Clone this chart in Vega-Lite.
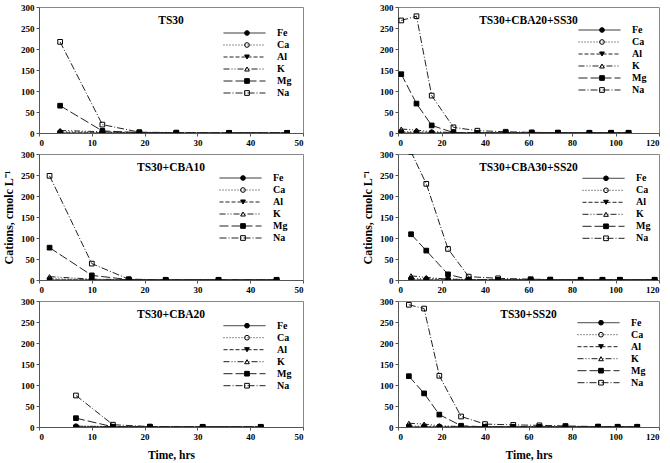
{
"$schema":"https://vega.github.io/schema/vega-lite/v6.json",
"padding":{"left":2,"top":2,"right":2,"bottom":2},
"data":{"values":[
{"p":1,"t":4,"i":"Fe","v":0},{"p":1,"t":12,"i":"Fe","v":0},{"p":1,"t":19,"i":"Fe","v":0},{"p":1,"t":26,"i":"Fe","v":0},{"p":1,"t":36,"i":"Fe","v":0},{"p":1,"t":47,"i":"Fe","v":0},
{"p":1,"t":4,"i":"Al","v":0},{"p":1,"t":12,"i":"Al","v":0},{"p":1,"t":19,"i":"Al","v":0},{"p":1,"t":26,"i":"Al","v":0},{"p":1,"t":36,"i":"Al","v":0},{"p":1,"t":47,"i":"Al","v":0},
{"p":1,"t":4,"i":"K","v":6},{"p":1,"t":12,"i":"K","v":3},{"p":1,"t":19,"i":"K","v":1},{"p":1,"t":26,"i":"K","v":0.5},{"p":1,"t":36,"i":"K","v":0.5},{"p":1,"t":47,"i":"K","v":0.5},
{"p":1,"t":4,"i":"Mg","v":65},{"p":1,"t":12,"i":"Mg","v":5},{"p":1,"t":19,"i":"Mg","v":1},{"p":1,"t":26,"i":"Mg","v":0},{"p":1,"t":36,"i":"Mg","v":0},{"p":1,"t":47,"i":"Mg","v":0},
{"p":1,"t":4,"i":"Na","v":217},{"p":1,"t":12,"i":"Na","v":20},{"p":1,"t":19,"i":"Na","v":2},{"p":1,"t":26,"i":"Na","v":1},{"p":1,"t":36,"i":"Na","v":0.5},{"p":1,"t":47,"i":"Na","v":0.5},
{"p":1,"t":4,"i":"Ca","v":3},{"p":1,"t":12,"i":"Ca","v":2},{"p":1,"t":19,"i":"Ca","v":1},{"p":1,"t":26,"i":"Ca","v":0.5},{"p":1,"t":36,"i":"Ca","v":0.5},{"p":1,"t":47,"i":"Ca","v":0.5},

{"p":2,"t":2,"i":"Fe","v":0},{"p":2,"t":10,"i":"Fe","v":0},{"p":2,"t":17,"i":"Fe","v":0},{"p":2,"t":24,"i":"Fe","v":0},{"p":2,"t":34,"i":"Fe","v":0},{"p":2,"t":45,"i":"Fe","v":0},
{"p":2,"t":2,"i":"Al","v":0},{"p":2,"t":10,"i":"Al","v":0},{"p":2,"t":17,"i":"Al","v":0},{"p":2,"t":24,"i":"Al","v":0},{"p":2,"t":34,"i":"Al","v":0},{"p":2,"t":45,"i":"Al","v":0},
{"p":2,"t":2,"i":"K","v":8},{"p":2,"t":10,"i":"K","v":2},{"p":2,"t":17,"i":"K","v":1},{"p":2,"t":24,"i":"K","v":0.5},{"p":2,"t":34,"i":"K","v":0.5},{"p":2,"t":45,"i":"K","v":0.5},
{"p":2,"t":2,"i":"Mg","v":77},{"p":2,"t":10,"i":"Mg","v":11},{"p":2,"t":17,"i":"Mg","v":1},{"p":2,"t":24,"i":"Mg","v":0},{"p":2,"t":34,"i":"Mg","v":0},{"p":2,"t":45,"i":"Mg","v":0},
{"p":2,"t":2,"i":"Na","v":248},{"p":2,"t":10,"i":"Na","v":39},{"p":2,"t":17,"i":"Na","v":2},{"p":2,"t":24,"i":"Na","v":0.5},{"p":2,"t":34,"i":"Na","v":0.5},{"p":2,"t":45,"i":"Na","v":0.5},
{"p":2,"t":2,"i":"Ca","v":3},{"p":2,"t":10,"i":"Ca","v":1},{"p":2,"t":17,"i":"Ca","v":1},{"p":2,"t":24,"i":"Ca","v":0.5},{"p":2,"t":34,"i":"Ca","v":0.5},{"p":2,"t":45,"i":"Ca","v":0.5},

{"p":3,"t":7,"i":"Fe","v":0},{"p":3,"t":14,"i":"Fe","v":0},{"p":3,"t":21,"i":"Fe","v":0},{"p":3,"t":31,"i":"Fe","v":0},{"p":3,"t":42,"i":"Fe","v":0},
{"p":3,"t":7,"i":"Al","v":0},{"p":3,"t":14,"i":"Al","v":0},{"p":3,"t":21,"i":"Al","v":0},{"p":3,"t":31,"i":"Al","v":0},{"p":3,"t":42,"i":"Al","v":0},
{"p":3,"t":7,"i":"K","v":2},{"p":3,"t":14,"i":"K","v":1},{"p":3,"t":21,"i":"K","v":0.5},{"p":3,"t":31,"i":"K","v":0.5},{"p":3,"t":42,"i":"K","v":0.5},
{"p":3,"t":7,"i":"Mg","v":21},{"p":3,"t":14,"i":"Mg","v":0.5},{"p":3,"t":21,"i":"Mg","v":0},{"p":3,"t":31,"i":"Mg","v":0},{"p":3,"t":42,"i":"Mg","v":0},
{"p":3,"t":7,"i":"Na","v":75},{"p":3,"t":14,"i":"Na","v":5.5},{"p":3,"t":21,"i":"Na","v":1},{"p":3,"t":31,"i":"Na","v":0.5},{"p":3,"t":42,"i":"Na","v":0.5},
{"p":3,"t":7,"i":"Ca","v":2},{"p":3,"t":14,"i":"Ca","v":1},{"p":3,"t":21,"i":"Ca","v":1},{"p":3,"t":31,"i":"Ca","v":0.5},{"p":3,"t":42,"i":"Ca","v":0.5},

{"p":4,"t":1.5,"i":"Fe","v":0},{"p":4,"t":8.5,"i":"Fe","v":0},{"p":4,"t":15.5,"i":"Fe","v":0},{"p":4,"t":25.5,"i":"Fe","v":0},{"p":4,"t":36.5,"i":"Fe","v":0},{"p":4,"t":49.5,"i":"Fe","v":0},{"p":4,"t":61.5,"i":"Fe","v":0},{"p":4,"t":73.5,"i":"Fe","v":0},{"p":4,"t":88,"i":"Fe","v":0},{"p":4,"t":98,"i":"Fe","v":0},{"p":4,"t":106,"i":"Fe","v":0},
{"p":4,"t":1.5,"i":"Al","v":0},{"p":4,"t":8.5,"i":"Al","v":0},{"p":4,"t":15.5,"i":"Al","v":0},{"p":4,"t":25.5,"i":"Al","v":0},{"p":4,"t":36.5,"i":"Al","v":0},{"p":4,"t":49.5,"i":"Al","v":0},{"p":4,"t":61.5,"i":"Al","v":0},{"p":4,"t":73.5,"i":"Al","v":0},{"p":4,"t":88,"i":"Al","v":0},{"p":4,"t":98,"i":"Al","v":0},{"p":4,"t":106,"i":"Al","v":0},
{"p":4,"t":1.5,"i":"K","v":9.5},{"p":4,"t":8.5,"i":"K","v":7},{"p":4,"t":15.5,"i":"K","v":3},{"p":4,"t":25.5,"i":"K","v":1},{"p":4,"t":36.5,"i":"K","v":0.5},{"p":4,"t":49.5,"i":"K","v":0.5},{"p":4,"t":61.5,"i":"K","v":0.5},{"p":4,"t":73.5,"i":"K","v":0.5},{"p":4,"t":88,"i":"K","v":0.5},{"p":4,"t":98,"i":"K","v":0.5},{"p":4,"t":106,"i":"K","v":0.5},
{"p":4,"t":1.5,"i":"Mg","v":140},{"p":4,"t":8.5,"i":"Mg","v":70},{"p":4,"t":15.5,"i":"Mg","v":18},{"p":4,"t":25.5,"i":"Mg","v":1},{"p":4,"t":36.5,"i":"Mg","v":0.5},{"p":4,"t":49.5,"i":"Mg","v":0.5},{"p":4,"t":61.5,"i":"Mg","v":0.5},{"p":4,"t":73.5,"i":"Mg","v":0.5},{"p":4,"t":88,"i":"Mg","v":0.5},{"p":4,"t":98,"i":"Mg","v":0.5},{"p":4,"t":106,"i":"Mg","v":0.5},
{"p":4,"t":1.5,"i":"Na","v":268},{"p":4,"t":8.5,"i":"Na","v":278},{"p":4,"t":15.5,"i":"Na","v":89},{"p":4,"t":25.5,"i":"Na","v":13.5},{"p":4,"t":36.5,"i":"Na","v":5.5},{"p":4,"t":49.5,"i":"Na","v":3},{"p":4,"t":61.5,"i":"Na","v":1.5},{"p":4,"t":73.5,"i":"Na","v":1},{"p":4,"t":88,"i":"Na","v":0.5},{"p":4,"t":98,"i":"Na","v":0.5},{"p":4,"t":106,"i":"Na","v":0.5},
{"p":4,"t":1.5,"i":"Ca","v":3},{"p":4,"t":8.5,"i":"Ca","v":3},{"p":4,"t":15.5,"i":"Ca","v":2},{"p":4,"t":25.5,"i":"Ca","v":1},{"p":4,"t":36.5,"i":"Ca","v":0.5},{"p":4,"t":49.5,"i":"Ca","v":0.5},{"p":4,"t":61.5,"i":"Ca","v":0.5},{"p":4,"t":73.5,"i":"Ca","v":0.5},{"p":4,"t":88,"i":"Ca","v":0.5},{"p":4,"t":98,"i":"Ca","v":0.5},{"p":4,"t":106,"i":"Ca","v":0.5},

{"p":5,"t":6,"i":"Fe","v":0},{"p":5,"t":13,"i":"Fe","v":0},{"p":5,"t":23,"i":"Fe","v":0},{"p":5,"t":32.5,"i":"Fe","v":0},{"p":5,"t":46,"i":"Fe","v":0},{"p":5,"t":61,"i":"Fe","v":0},{"p":5,"t":70,"i":"Fe","v":0},{"p":5,"t":84,"i":"Fe","v":0},{"p":5,"t":94,"i":"Fe","v":0},{"p":5,"t":102,"i":"Fe","v":0},{"p":5,"t":118,"i":"Fe","v":0},
{"p":5,"t":6,"i":"Al","v":0},{"p":5,"t":13,"i":"Al","v":0},{"p":5,"t":23,"i":"Al","v":0},{"p":5,"t":32.5,"i":"Al","v":0},{"p":5,"t":46,"i":"Al","v":0},{"p":5,"t":61,"i":"Al","v":0},{"p":5,"t":70,"i":"Al","v":0},{"p":5,"t":84,"i":"Al","v":0},{"p":5,"t":94,"i":"Al","v":0},{"p":5,"t":102,"i":"Al","v":0},{"p":5,"t":118,"i":"Al","v":0},
{"p":5,"t":6,"i":"K","v":10},{"p":5,"t":13,"i":"K","v":6},{"p":5,"t":23,"i":"K","v":2},{"p":5,"t":32.5,"i":"K","v":1},{"p":5,"t":46,"i":"K","v":0.5},{"p":5,"t":61,"i":"K","v":0.5},{"p":5,"t":70,"i":"K","v":0.5},{"p":5,"t":84,"i":"K","v":0.5},{"p":5,"t":94,"i":"K","v":0.5},{"p":5,"t":102,"i":"K","v":0.5},{"p":5,"t":118,"i":"K","v":0.5},
{"p":5,"t":6,"i":"Mg","v":109},{"p":5,"t":13,"i":"Mg","v":70},{"p":5,"t":23,"i":"Mg","v":13.5},{"p":5,"t":32.5,"i":"Mg","v":1},{"p":5,"t":46,"i":"Mg","v":0.5},{"p":5,"t":61,"i":"Mg","v":0.5},{"p":5,"t":70,"i":"Mg","v":0.5},{"p":5,"t":84,"i":"Mg","v":0.5},{"p":5,"t":94,"i":"Mg","v":0.5},{"p":5,"t":102,"i":"Mg","v":0.5},{"p":5,"t":118,"i":"Mg","v":0.5},
{"p":5,"t":6,"i":"Na","v":305},{"p":5,"t":13,"i":"Na","v":229},{"p":5,"t":23,"i":"Na","v":74},{"p":5,"t":32.5,"i":"Na","v":8},{"p":5,"t":46,"i":"Na","v":4},{"p":5,"t":61,"i":"Na","v":2},{"p":5,"t":70,"i":"Na","v":1},{"p":5,"t":84,"i":"Na","v":0.5},{"p":5,"t":94,"i":"Na","v":0.5},{"p":5,"t":102,"i":"Na","v":0.5},{"p":5,"t":118,"i":"Na","v":0.5},
{"p":5,"t":6,"i":"Ca","v":3},{"p":5,"t":13,"i":"Ca","v":3},{"p":5,"t":23,"i":"Ca","v":2},{"p":5,"t":32.5,"i":"Ca","v":1},{"p":5,"t":46,"i":"Ca","v":0.5},{"p":5,"t":61,"i":"Ca","v":0.5},{"p":5,"t":70,"i":"Ca","v":0.5},{"p":5,"t":84,"i":"Ca","v":0.5},{"p":5,"t":94,"i":"Ca","v":0.5},{"p":5,"t":102,"i":"Ca","v":0.5},{"p":5,"t":118,"i":"Ca","v":0.5},

{"p":6,"t":5,"i":"Fe","v":0},{"p":6,"t":12,"i":"Fe","v":0},{"p":6,"t":19,"i":"Fe","v":0},{"p":6,"t":29,"i":"Fe","v":0},{"p":6,"t":40,"i":"Fe","v":0},{"p":6,"t":53,"i":"Fe","v":0},{"p":6,"t":65,"i":"Fe","v":0},{"p":6,"t":77,"i":"Fe","v":0},{"p":6,"t":92,"i":"Fe","v":0},{"p":6,"t":101,"i":"Fe","v":0},{"p":6,"t":110,"i":"Fe","v":0},
{"p":6,"t":5,"i":"Al","v":0},{"p":6,"t":12,"i":"Al","v":0},{"p":6,"t":19,"i":"Al","v":0},{"p":6,"t":29,"i":"Al","v":0},{"p":6,"t":40,"i":"Al","v":0},{"p":6,"t":53,"i":"Al","v":0},{"p":6,"t":65,"i":"Al","v":0},{"p":6,"t":77,"i":"Al","v":0},{"p":6,"t":92,"i":"Al","v":0},{"p":6,"t":101,"i":"Al","v":0},{"p":6,"t":110,"i":"Al","v":0},
{"p":6,"t":5,"i":"K","v":9},{"p":6,"t":12,"i":"K","v":7},{"p":6,"t":19,"i":"K","v":3},{"p":6,"t":29,"i":"K","v":1},{"p":6,"t":40,"i":"K","v":0.5},{"p":6,"t":53,"i":"K","v":0.5},{"p":6,"t":65,"i":"K","v":0.5},{"p":6,"t":77,"i":"K","v":0.5},{"p":6,"t":92,"i":"K","v":0.5},{"p":6,"t":101,"i":"K","v":0.5},{"p":6,"t":110,"i":"K","v":0.5},
{"p":6,"t":5,"i":"Mg","v":121},{"p":6,"t":12,"i":"Mg","v":80},{"p":6,"t":19,"i":"Mg","v":29.5},{"p":6,"t":29,"i":"Mg","v":3},{"p":6,"t":40,"i":"Mg","v":0.5},{"p":6,"t":53,"i":"Mg","v":0.5},{"p":6,"t":65,"i":"Mg","v":0.5},{"p":6,"t":77,"i":"Mg","v":0.5},{"p":6,"t":92,"i":"Mg","v":0.5},{"p":6,"t":101,"i":"Mg","v":0.5},{"p":6,"t":110,"i":"Mg","v":0.5},
{"p":6,"t":5,"i":"Na","v":291},{"p":6,"t":12,"i":"Na","v":282},{"p":6,"t":19,"i":"Na","v":122},{"p":6,"t":29,"i":"Na","v":25},{"p":6,"t":40,"i":"Na","v":7},{"p":6,"t":53,"i":"Na","v":5},{"p":6,"t":65,"i":"Na","v":4},{"p":6,"t":77,"i":"Na","v":2.5},{"p":6,"t":92,"i":"Na","v":1},{"p":6,"t":101,"i":"Na","v":0.5},{"p":6,"t":110,"i":"Na","v":0.5},
{"p":6,"t":5,"i":"Ca","v":2},{"p":6,"t":12,"i":"Ca","v":2},{"p":6,"t":19,"i":"Ca","v":1.5},{"p":6,"t":29,"i":"Ca","v":1},{"p":6,"t":40,"i":"Ca","v":0.5},{"p":6,"t":53,"i":"Ca","v":0.5},{"p":6,"t":65,"i":"Ca","v":0.5},{"p":6,"t":77,"i":"Ca","v":0.5},{"p":6,"t":92,"i":"Ca","v":0.5},{"p":6,"t":101,"i":"Ca","v":0.5},{"p":6,"t":110,"i":"Ca","v":0.5}
]},
"columns":2,
"spacing":{"row":21,"column":95},
"bounds":"flush",
"resolve":{"scale":{"strokeDash":"independent","shape":"independent"},"legend":{"strokeDash":"independent","shape":"independent"}},
"concat":[
{"width":264,"height":126,"title":{"text":"TS30"},"transform":[{"filter":"datum.p==1"}],
"resolve":{"scale":{"shape":"independent"},"legend":{"shape":"independent"}},
"encoding":{"x":{"field":"t","type":"quantitative","scale":{"domain":[0,50],"nice":false},"axis":{"values":[0,10,20,30,40,50],"title":null}},
"y":{"field":"v","type":"quantitative","scale":{"domain":[0,300],"nice":false},"axis":{"values":[0,50,100,150,200,250,300],"title":null}}},
"layer":[
{"mark":{"type":"line","clip":true,"strokeWidth":1,"color":"#222"},"encoding":{"strokeDash":{"field":"i","type":"nominal","sort":["Fe","Ca","Al","K","Mg","Na"],"scale":{"range":[[1,0],[1,2],[4,2],[6,2,1,2,1,2],[9,3],[7,2,1,2]]},"legend":{"legendX":184,"legendY":20.4,"title":null,"symbolType":"stroke","symbolSize":1764,"symbolStrokeWidth":1,"labelOffset":11}}}},
{"mark":{"type":"point","clip":true,"filled":false,"color":"#000","strokeWidth":1,"size":22,"opacity":1},"encoding":{"shape":{"field":"i","type":"nominal","scale":{"domain":["Fe","Ca","Al","K","Mg","Na"],"range":["circle","circle","triangle-down","triangle-up","square","square"]},"legend":{"legendX":203,"legendY":20.4,"title":null,"symbolSize":22,"symbolStrokeWidth":1,"symbolStrokeColor":"#000","labelExpr":"''"}}}},
{"mark":{"type":"point","clip":true,"filled":true,"color":"#000","size":22,"opacity":1},"encoding":{"shape":{"field":"i","type":"nominal","scale":{"domain":["Fe","Ca","Al","K","Mg","Na"],"range":["circle","M0,0","triangle-down","M0,0","square","M0,0"]},"legend":{"legendX":203,"legendY":20.4,"title":null,"symbolSize":22,"labelExpr":"''"}}}}
]},
{"width":261,"height":126,"title":{"text":"TS30+CBA20+SS30"},"transform":[{"filter":"datum.p==4"}],
"resolve":{"scale":{"shape":"independent"},"legend":{"shape":"independent"}},
"encoding":{"x":{"field":"t","type":"quantitative","scale":{"domain":[0,120],"nice":false},"axis":{"values":[0,20,40,60,80,100,120],"title":null}},
"y":{"field":"v","type":"quantitative","scale":{"domain":[0,300],"nice":false},"axis":{"values":[0,50,100,150,200,250,300],"title":null}}},
"layer":[
{"mark":{"type":"line","clip":true,"strokeWidth":1,"color":"#222"},"encoding":{"strokeDash":{"field":"i","type":"nominal","sort":["Fe","Ca","Al","K","Mg","Na"],"scale":{"range":[[1,0],[1,2],[4,2],[6,2,1,2,1,2],[9,3],[7,2,1,2]]},"legend":{"legendX":180,"legendY":17.4,"title":null,"symbolType":"stroke","symbolSize":1764,"symbolStrokeWidth":1,"labelOffset":11}}}},
{"mark":{"type":"point","clip":true,"filled":false,"color":"#000","strokeWidth":1,"size":22,"opacity":1},"encoding":{"shape":{"field":"i","type":"nominal","scale":{"domain":["Fe","Ca","Al","K","Mg","Na"],"range":["circle","circle","triangle-down","triangle-up","square","square"]},"legend":{"legendX":199,"legendY":17.4,"title":null,"symbolSize":22,"symbolStrokeWidth":1,"symbolStrokeColor":"#000","labelExpr":"''"}}}},
{"mark":{"type":"point","clip":true,"filled":true,"color":"#000","size":22,"opacity":1},"encoding":{"shape":{"field":"i","type":"nominal","scale":{"domain":["Fe","Ca","Al","K","Mg","Na"],"range":["circle","M0,0","triangle-down","M0,0","square","M0,0"]},"legend":{"legendX":199,"legendY":17.4,"title":null,"symbolSize":22,"labelExpr":"''"}}}}
]},
{"width":264,"height":126,"title":{"text":"TS30+CBA10"},"transform":[{"filter":"datum.p==2"}],
"resolve":{"scale":{"shape":"independent"},"legend":{"shape":"independent"}},
"encoding":{"x":{"field":"t","type":"quantitative","scale":{"domain":[0,50],"nice":false},"axis":{"values":[0,10,20,30,40,50],"title":null}},
"y":{"field":"v","type":"quantitative","scale":{"domain":[0,300],"nice":false},"axis":{"values":[0,50,100,150,200,250,300],"title":"Cations, cmolc L⁻¹"}}},
"layer":[
{"mark":{"type":"line","clip":true,"strokeWidth":1,"color":"#222"},"encoding":{"strokeDash":{"field":"i","type":"nominal","sort":["Fe","Ca","Al","K","Mg","Na"],"scale":{"range":[[1,0],[1,2],[4,2],[6,2,1,2,1,2],[9,3],[7,2,1,2]]},"legend":{"legendX":180,"legendY":18.4,"title":null,"symbolType":"stroke","symbolSize":1764,"symbolStrokeWidth":1,"labelOffset":11}}}},
{"mark":{"type":"point","clip":true,"filled":false,"color":"#000","strokeWidth":1,"size":22,"opacity":1},"encoding":{"shape":{"field":"i","type":"nominal","scale":{"domain":["Fe","Ca","Al","K","Mg","Na"],"range":["circle","circle","triangle-down","triangle-up","square","square"]},"legend":{"legendX":199,"legendY":18.4,"title":null,"symbolSize":22,"symbolStrokeWidth":1,"symbolStrokeColor":"#000","labelExpr":"''"}}}},
{"mark":{"type":"point","clip":true,"filled":true,"color":"#000","size":22,"opacity":1},"encoding":{"shape":{"field":"i","type":"nominal","scale":{"domain":["Fe","Ca","Al","K","Mg","Na"],"range":["circle","M0,0","triangle-down","M0,0","square","M0,0"]},"legend":{"legendX":199,"legendY":18.4,"title":null,"symbolSize":22,"labelExpr":"''"}}}}
]},
{"width":261,"height":126,"title":{"text":"TS30+CBA30+SS20"},"transform":[{"filter":"datum.p==5"}],
"resolve":{"scale":{"shape":"independent"},"legend":{"shape":"independent"}},
"encoding":{"x":{"field":"t","type":"quantitative","scale":{"domain":[0,120],"nice":false},"axis":{"values":[0,20,40,60,80,100,120],"title":null}},
"y":{"field":"v","type":"quantitative","scale":{"domain":[0,300],"nice":false},"axis":{"values":[0,50,100,150,200,250,300],"title":"Cations, cmolc L⁻¹"}}},
"layer":[
{"mark":{"type":"line","clip":true,"strokeWidth":1,"color":"#222"},"encoding":{"strokeDash":{"field":"i","type":"nominal","sort":["Fe","Ca","Al","K","Mg","Na"],"scale":{"range":[[1,0],[1,2],[4,2],[6,2,1,2,1,2],[9,3],[7,2,1,2]]},"legend":{"legendX":184,"legendY":18.7,"title":null,"symbolType":"stroke","symbolSize":1764,"symbolStrokeWidth":1,"labelOffset":11}}}},
{"mark":{"type":"point","clip":true,"filled":false,"color":"#000","strokeWidth":1,"size":22,"opacity":1},"encoding":{"shape":{"field":"i","type":"nominal","scale":{"domain":["Fe","Ca","Al","K","Mg","Na"],"range":["circle","circle","triangle-down","triangle-up","square","square"]},"legend":{"legendX":203,"legendY":18.7,"title":null,"symbolSize":22,"symbolStrokeWidth":1,"symbolStrokeColor":"#000","labelExpr":"''"}}}},
{"mark":{"type":"point","clip":true,"filled":true,"color":"#000","size":22,"opacity":1},"encoding":{"shape":{"field":"i","type":"nominal","scale":{"domain":["Fe","Ca","Al","K","Mg","Na"],"range":["circle","M0,0","triangle-down","M0,0","square","M0,0"]},"legend":{"legendX":203,"legendY":18.7,"title":null,"symbolSize":22,"labelExpr":"''"}}}}
]},
{"width":264,"height":126,"title":{"text":"TS30+CBA20"},"transform":[{"filter":"datum.p==3"}],
"resolve":{"scale":{"shape":"independent"},"legend":{"shape":"independent"}},
"encoding":{"x":{"field":"t","type":"quantitative","scale":{"domain":[0,50],"nice":false},"axis":{"values":[0,10,20,30,40,50],"title":"Time, hrs"}},
"y":{"field":"v","type":"quantitative","scale":{"domain":[0,300],"nice":false},"axis":{"values":[0,50,100,150,200,250,300],"title":null}}},
"layer":[
{"mark":{"type":"line","clip":true,"strokeWidth":1,"color":"#222"},"encoding":{"strokeDash":{"field":"i","type":"nominal","sort":["Fe","Ca","Al","K","Mg","Na"],"scale":{"range":[[1,0],[1,2],[4,2],[6,2,1,2,1,2],[9,3],[7,2,1,2]]},"legend":{"legendX":184,"legendY":19.1,"title":null,"symbolType":"stroke","symbolSize":1764,"symbolStrokeWidth":1,"labelOffset":11}}}},
{"mark":{"type":"point","clip":true,"filled":false,"color":"#000","strokeWidth":1,"size":22,"opacity":1},"encoding":{"shape":{"field":"i","type":"nominal","scale":{"domain":["Fe","Ca","Al","K","Mg","Na"],"range":["circle","circle","triangle-down","triangle-up","square","square"]},"legend":{"legendX":203,"legendY":19.1,"title":null,"symbolSize":22,"symbolStrokeWidth":1,"symbolStrokeColor":"#000","labelExpr":"''"}}}},
{"mark":{"type":"point","clip":true,"filled":true,"color":"#000","size":22,"opacity":1},"encoding":{"shape":{"field":"i","type":"nominal","scale":{"domain":["Fe","Ca","Al","K","Mg","Na"],"range":["circle","M0,0","triangle-down","M0,0","square","M0,0"]},"legend":{"legendX":203,"legendY":19.1,"title":null,"symbolSize":22,"labelExpr":"''"}}}}
]},
{"width":261,"height":126,"title":{"text":"TS30+SS20"},"transform":[{"filter":"datum.p==6"}],
"resolve":{"scale":{"shape":"independent"},"legend":{"shape":"independent"}},
"encoding":{"x":{"field":"t","type":"quantitative","scale":{"domain":[0,120],"nice":false},"axis":{"values":[0,20,40,60,80,100,120],"title":"Time, hrs"}},
"y":{"field":"v","type":"quantitative","scale":{"domain":[0,300],"nice":false},"axis":{"values":[0,50,100,150,200,250,300],"title":null}}},
"layer":[
{"mark":{"type":"line","clip":true,"strokeWidth":1,"color":"#222"},"encoding":{"strokeDash":{"field":"i","type":"nominal","sort":["Fe","Ca","Al","K","Mg","Na"],"scale":{"range":[[1,0],[1,2],[4,2],[6,2,1,2,1,2],[9,3],[7,2,1,2]]},"legend":{"legendX":179,"legendY":16.1,"title":null,"symbolType":"stroke","symbolSize":1764,"symbolStrokeWidth":1,"labelOffset":11}}}},
{"mark":{"type":"point","clip":true,"filled":false,"color":"#000","strokeWidth":1,"size":22,"opacity":1},"encoding":{"shape":{"field":"i","type":"nominal","scale":{"domain":["Fe","Ca","Al","K","Mg","Na"],"range":["circle","circle","triangle-down","triangle-up","square","square"]},"legend":{"legendX":198,"legendY":16.1,"title":null,"symbolSize":22,"symbolStrokeWidth":1,"symbolStrokeColor":"#000","labelExpr":"''"}}}},
{"mark":{"type":"point","clip":true,"filled":true,"color":"#000","size":22,"opacity":1},"encoding":{"shape":{"field":"i","type":"nominal","scale":{"domain":["Fe","Ca","Al","K","Mg","Na"],"range":["circle","M0,0","triangle-down","M0,0","square","M0,0"]},"legend":{"legendX":198,"legendY":16.1,"title":null,"symbolSize":22,"labelExpr":"''"}}}}
]}
],
"config":{
"font":"Liberation Serif",
"background":"#ffffff",
"view":{"stroke":"#888888","strokeWidth":1},
"axis":{"grid":false,"labelFont":"Liberation Serif","labelFontWeight":"bold","labelFontSize":9,"labelColor":"#000","domainColor":"#555","tickColor":"#555","tickSize":3,"labelPadding":2,"titleFont":"Liberation Serif","titleFontWeight":"bold","titleColor":"#000"},
"axisX":{"titleFontSize":11.5,"titlePadding":8},
"axisY":{"titleFontSize":12,"titlePadding":5},
"legend":{"orient":"none","padding":0,"rowPadding":0,"clipHeight":11.2,"labelFont":"Liberation Serif","labelFontWeight":"bold","labelFontSize":10,"labelColor":"#000"},
"title":{"font":"Liberation Serif","fontSize":11.5,"fontWeight":"bold","color":"#000","frame":"group","anchor":"middle","baseline":"top","offset":-23.5}
}
}
